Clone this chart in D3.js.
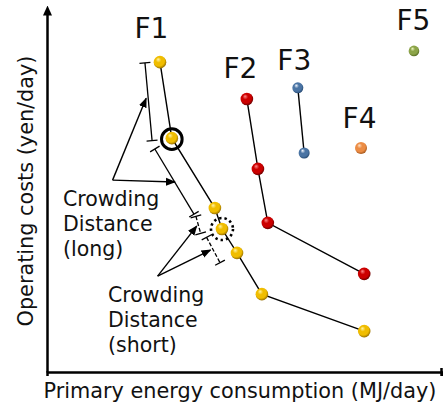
<!DOCTYPE html>
<html>

<head>
    <meta charset="utf-8">
    <style>
        body {
            margin: 0;
            background: #fff;
        }

        svg {
            display: block;
            font-family: 'DejaVu Sans', Verdana, sans-serif;
        }

        .axis .domain {
            stroke: #000;
            stroke-width: 2.5px;
        }

        .axis .tick line {
            stroke: #000;
            stroke-width: 2.5px;
        }

        .axis .tick text {
            display: none;
        }
    </style>
</head>

<body>
    <svg width="443" height="407"></svg>

    <script src="https://d3js.org/d3.v7.min.js"></script>
    <script>
        // fronts (pareto ranks), values in relative units (no ticks on the original)
        let fronts = ["F1", "F2", "F3", "F4", "F5"]

        let f1Energy = [28.6, 31.6, 42.5, 44.3, 48.1, 54.4, 80.3]
        let f1Cost = [85.6, 64.6, 45.3, 39.5, 32.9, 21.5, 11.3]

        let f2Energy = [50.6, 53.4, 55.9, 80.3]
        let f2Cost = [75.4, 56.1, 41.2, 27.1]

        let f3Energy = [63.5, 65.1]
        let f3Cost = [78.5, 60.5]

        let f4Energy = [79.5]
        let f4Cost = [61.9]

        let f5Energy = [92.9]
        let f5Cost = [88.7]

        let energies = [f1Energy, f2Energy, f3Energy, f4Energy, f5Energy]
        let costs = [f1Cost, f2Cost, f3Cost, f4Cost, f5Cost]

        // crowding distance brackets [x1, y1, x2, y2] in data units
        let bracketsLong = [[24.8, 85.4, 26.6, 63.9], [27.3, 61.6, 37.2, 43.6]]
        let bracketsShort = [[37.7, 43.0, 38.9, 38.3], [40.4, 37.2, 43.8, 30.2]]

        // arrows from the text to the brackets: [vertex x, vertex y, tip x, tip y]
        let arrowsLong = [[16.6, 53.0, 25.1, 75.6], [16.6, 53.0, 32.4, 52.5]]
        let arrowsShort = [[28.0, 26.5, 37.9, 40.3], [28.0, 26.5, 41.4, 33.7]]

        let labelLong = ["Crowding", "Distance", "(long)"]
        let labelShort = ["Crowding", "Distance", "(short)"]

        let xTitle = "Primary energy consumption (MJ/day)"
        let yTitle = "Operating costs (yen/day)"

        // ball colours: highlight, body, edge
        let ballColors = {
            F1: ["#fff4a6", "#f0bd00", "#8f6800"],
            F2: ["#ff8a8a", "#cc0000", "#600000"],
            F3: ["#f4f8ff", "#4a74a4", "#23466e"],
            F4: ["#ffe2c6", "#ec8c44", "#a0541a"],
            F5: ["#eef6c0", "#8ca448", "#526820"]
        }
        let ballRadius = { F1: 6.3, F2: 6.3, F3: 5.5, F4: 6, F5: 5.3 }
        let labelShift = { F1: [-8.5, -24], F2: [-6.5, -21], F3: [-3.5, -18], F4: [-1.5, -20], F5: [-0.5, -21] }

        let svg = d3.select("svg")

        let x = d3.scaleLinear()
            .domain([0, 100])
            .range([47, 442])

        let y = d3.scaleLinear()
            .domain([0, 100])
            .range([372, 10])

        let defs = svg.append("defs")

        defs.append("marker")
            .attr("id", "head")
            .attr("viewBox", "0 -5 10 10")
            .attr("refX", 9)
            .attr("refY", 0)
            .attr("markerUnits", "userSpaceOnUse")
            .attr("markerWidth", 10)
            .attr("markerHeight", 10)
            .attr("orient", "auto")
            .append("path")
            .attr("d", "M0,-4L10,0L0,4Z")
            .style("fill", "#000")

        defs.append("marker")
            .attr("id", "axishead")
            .attr("viewBox", "0 -5 10 10")
            .attr("refX", 5)
            .attr("refY", 0)
            .attr("markerUnits", "userSpaceOnUse")
            .attr("markerWidth", 10)
            .attr("markerHeight", 10)
            .attr("orient", "auto")
            .append("path")
            .attr("d", "M0,-4.5L10,0L0,4.5Z")
            .style("fill", "#000")

        fronts.forEach(function (f) {
            let g = defs.append("radialGradient")
                .attr("id", "ball" + f)
                .attr("cx", "45%")
                .attr("cy", "42%")
                .attr("fx", "35%")
                .attr("fy", "28%")
                .attr("r", "60%")
            let c = ballColors[f]
            g.append("stop").attr("offset", "0%").attr("stop-color", c[0])
            g.append("stop").attr("offset", "36%").attr("stop-color", c[1])
            g.append("stop").attr("offset", "72%").attr("stop-color", c[1])
            g.append("stop").attr("offset", "100%").attr("stop-color", c[2])
        })

        // axes
        let yAxis = svg.append("g")
            .attr("class", "axis y")
            .attr("transform", "translate(" + x(0) + ",0)")
            .call(d3.axisLeft(y).tickValues([]).tickSizeOuter(0))
        yAxis.select(".domain").attr("marker-end", "url(#axishead)")

        let xAxis = svg.append("g")
            .attr("class", "axis x")
            .attr("transform", "translate(0," + y(0) + ")")
            .call(d3.axisBottom(x).tickValues([100]).tickSizeOuter(0).tickSize(4))
        xAxis.selectAll(".tick line").attr("y1", -4).attr("x1", -1).attr("x2", -1)

        svg.append("text")
            .attr("x", 240)
            .attr("y", 398)
            .attr("text-anchor", "middle")
            .style("font-size", "20.8px")
            .style("fill", "#111")
            .text(xTitle)

        svg.append("text")
            .attr("transform", "translate(33," + (y(0) + y(100)) / 2 + ") rotate(-90)")
            .attr("text-anchor", "middle")
            .style("font-size", "20.8px")
            .style("fill", "#111")
            .text(yTitle)

        // rows per front
        let rows = fronts.map(function (f, i) {
            return energies[i].map(function (e, j) {
                return { front: f, energy: e, cost: costs[i][j] }
            })
        })

        let line = d3.line()
            .x(d => x(d.energy))
            .y(d => y(d.cost))

        svg.append("g")
            .selectAll("path")
            .data(rows.filter(r => r.length > 1))
            .join("path")
            .attr("d", d => line(d))
            .style("fill", "none")
            .style("stroke", "#000")
            .style("stroke-width", "1.4px")

        // brackets
        function drawBracket(b, dashed) {
            let x1 = x(b[0]), y1 = y(b[1]), x2 = x(b[2]), y2 = y(b[3])
            let len = Math.hypot(x2 - x1, y2 - y1)
            let px = -(y2 - y1) / len * 5.5, py = (x2 - x1) / len * 5.5
            let g = svg.append("g").style("stroke", "#000").style("stroke-width", "1.3px")
            g.append("line")
                .attr("x1", x1).attr("y1", y1).attr("x2", x2).attr("y2", y2)
                .style("stroke-dasharray", dashed ? "4,2" : null)
            g.append("line")
                .attr("x1", x1 - px).attr("y1", y1 - py).attr("x2", x1 + px).attr("y2", y1 + py)
            g.append("line")
                .attr("x1", x2 - px).attr("y1", y2 - py).attr("x2", x2 + px).attr("y2", y2 + py)
        }
        bracketsLong.forEach(b => drawBracket(b, false))
        bracketsShort.forEach(b => drawBracket(b, true))

        // arrows
        svg.append("g")
            .selectAll("line")
            .data(arrowsLong.concat(arrowsShort))
            .join("line")
            .attr("x1", d => x(d[0]))
            .attr("y1", d => y(d[1]))
            .attr("x2", d => x(d[2]))
            .attr("y2", d => y(d[3]))
            .attr("marker-end", "url(#head)")
            .style("stroke", "#000")
            .style("stroke-width", "1.4px")

        // balls
        let points = rows.flat()
        svg.append("g")
            .selectAll("circle")
            .data(points)
            .join("circle")
            .attr("cx", d => x(d.energy))
            .attr("cy", d => y(d.cost))
            .attr("r", d => ballRadius[d.front])
            .style("fill", d => "url(#ball" + d.front + ")")

        // highlighted solutions on F1
        svg.append("circle")
            .attr("cx", x(f1Energy[1]))
            .attr("cy", y(f1Cost[1]) + 1)
            .attr("r", 10.3)
            .style("fill", "none")
            .style("stroke", "#000")
            .style("stroke-width", "3px")

        svg.append("circle")
            .attr("cx", x(f1Energy[3]))
            .attr("cy", y(f1Cost[3]))
            .attr("r", 11)
            .style("fill", "none")
            .style("stroke", "#000")
            .style("stroke-width", "2.6px")
            .style("stroke-dasharray", "2.4,3")

        // front labels above their first point
        svg.append("g")
            .selectAll("text")
            .data(rows)
            .join("text")
            .attr("x", d => x(d[0].energy) + labelShift[d[0].front][0])
            .attr("y", d => y(d[0].cost) + labelShift[d[0].front][1])
            .attr("text-anchor", "middle")
            .style("font-size", "28px")
            .style("fill", "#111")
            .text(d => d[0].front)

        // crowding distance captions
        function caption(lines, left, top) {
            svg.append("text")
                .style("font-size", "20.5px")
                .style("fill", "#111")
                .selectAll("tspan")
                .data(lines)
                .join("tspan")
                .attr("x", left)
                .attr("y", (d, i) => top + i * 25)
                .text(d => d)
        }
        caption(labelLong, 63, 205.5)
        caption(labelShort, 108, 302)
    </script>
</body>

</html>
